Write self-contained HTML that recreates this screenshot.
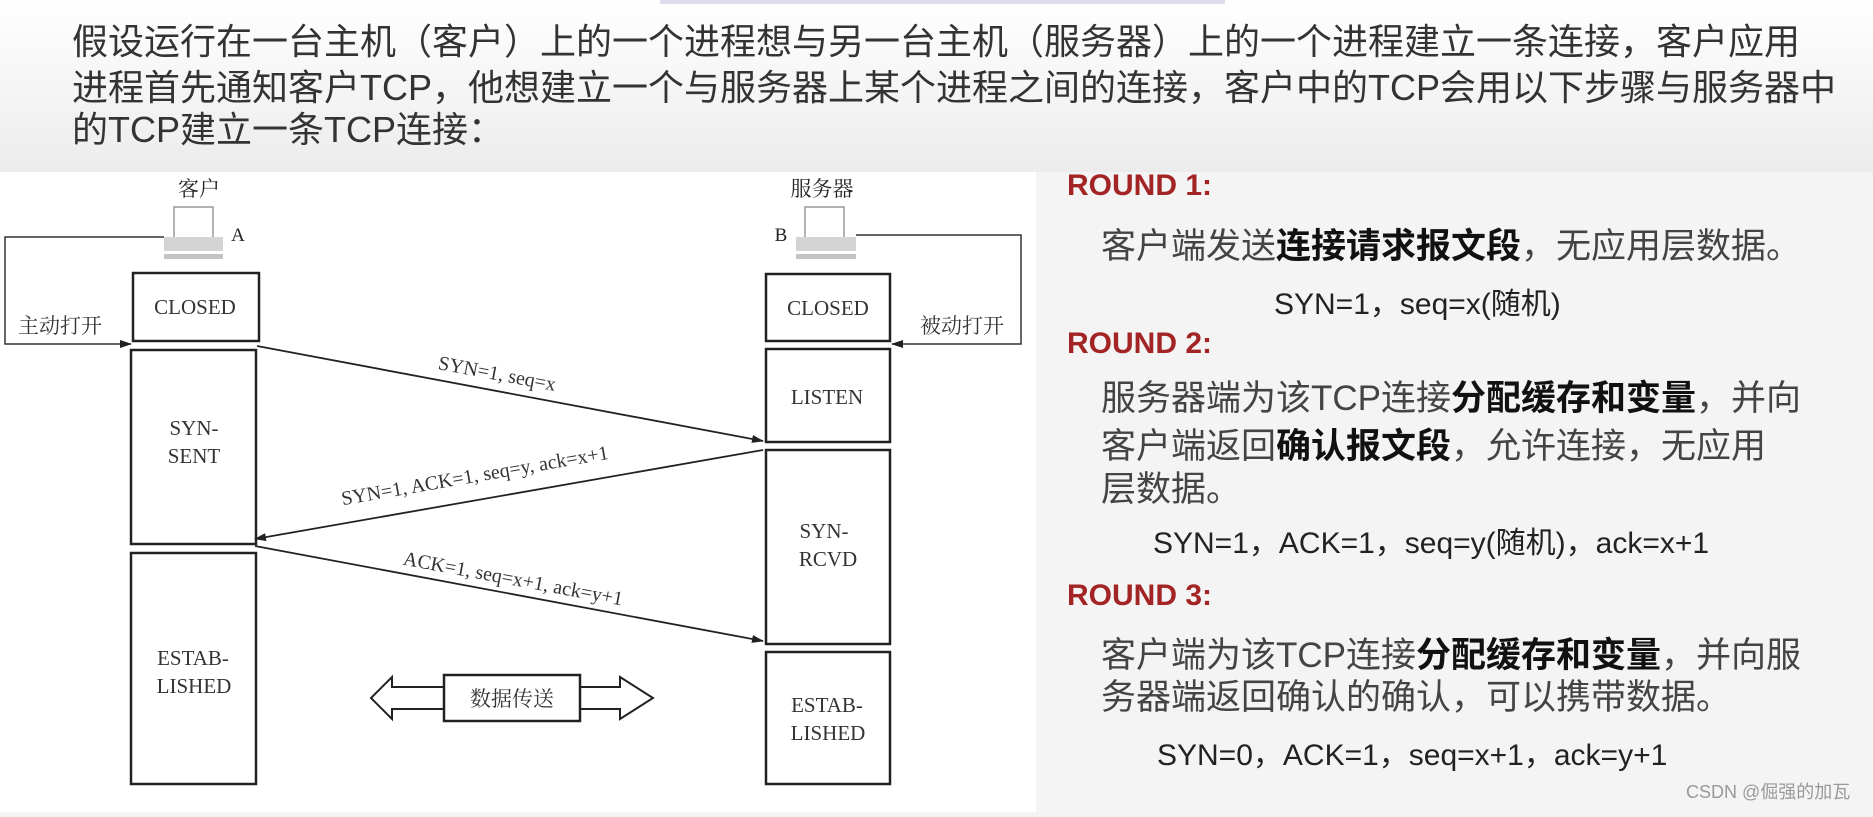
<!DOCTYPE html>
<html><head><meta charset="utf-8">
<style>
html,body{margin:0;padding:0;}
body{width:1873px;height:817px;position:relative;overflow:hidden;background:#f4f4f4;font-family:"Liberation Sans","Noto Sans CJK SC",sans-serif;color:#222;}
.t{position:absolute;white-space:nowrap;line-height:1;}
.p{font-size:36px;color:#333;left:72px;}
.r{font-size:30px;font-weight:bold;color:#a32424;left:1067px;}
.c{font-size:35px;color:#444;left:1101px;}
.c b{color:#111;}
.f{font-size:30px;color:#222;}
</style></head><body>
<div style="position:absolute;left:0;top:0;width:1873px;height:172px;background:linear-gradient(#ffffff,#ececec);"></div>
<div style="position:absolute;left:660px;top:0;width:565px;height:4px;background:#dde;"></div>
<div class="t p" style="top:24px;">假设运行在一台主机（客户）上的一个进程想与另一台主机（服务器）上的一个进程建立一条连接，客户应用</div>
<div class="t p" style="top:70px;">进程首先通知客户TCP，他想建立一个与服务器上某个进程之间的连接，客户中的TCP会用以下步骤与服务器中</div>
<div class="t p" style="top:112px;">的TCP建立一条TCP连接：</div>

<svg style="position:absolute;left:0;top:172px;" width="1036" height="640" viewBox="0 172 1036 640">
<rect x="0" y="172" width="1036" height="640" fill="#fff"/>
<defs><marker id="a" markerWidth="12" markerHeight="8" refX="11" refY="4" orient="auto" markerUnits="userSpaceOnUse"><path d="M0,0 L12,4 L0,8 z" fill="#222"/></marker></defs>
<g font-family="Liberation Serif,Noto Serif CJK SC,serif" font-size="21" fill="#222" text-anchor="middle">
<text x="199" y="196">客户</text><text x="822" y="196">服务器</text>
<text x="238" y="241" font-size="19">A</text><text x="781" y="241" font-size="19">B</text>
</g>
<g fill="none" stroke="#999" stroke-width="1.5">
<path d="M174,237 V207 H213 V237"/><path d="M805,237 V207 H844 V237"/>
</g>
<rect x="164" y="237" width="59" height="14" fill="#d4d4d4"/><rect x="164" y="254" width="59" height="5" fill="#c4c4c4"/>
<rect x="796" y="237" width="60" height="14" fill="#d4d4d4"/><rect x="796" y="254" width="60" height="5" fill="#c4c4c4"/>
<g fill="none" stroke="#333" stroke-width="1.5">
<polyline points="164,237 5,237 5,344 131,344" marker-end="url(#a)"/>
<polyline points="856,235 1021,235 1021,344 892,344" marker-end="url(#a)"/>
</g>
<g fill="#fff" stroke="#222" stroke-width="2.5">
<rect x="133" y="273" width="126" height="68"/>
<rect x="131" y="350" width="125" height="194"/>
<rect x="131" y="553" width="125" height="231"/>
<rect x="766" y="274" width="124" height="67"/>
<rect x="766" y="349" width="124" height="93"/>
<rect x="766" y="450" width="124" height="194"/>
<rect x="766" y="652" width="124" height="132"/>
</g>
<g stroke="#222" stroke-width="1.8">
<line x1="257" y1="346" x2="763" y2="441" marker-end="url(#a)"/>
<line x1="763" y1="450" x2="255" y2="539" marker-end="url(#a)"/>
<line x1="255" y1="546" x2="763" y2="641" marker-end="url(#a)"/>
</g>
<g font-family="Liberation Serif,serif" font-size="21" fill="#333" text-anchor="middle">
<text x="195" y="314">CLOSED</text><text x="828" y="315">CLOSED</text>
<text x="827" y="404">LISTEN</text>
<text x="194" y="435">SYN-</text><text x="194" y="463">SENT</text>
<text x="824" y="538">SYN-</text><text x="828" y="566">RCVD</text>
<text x="193" y="665">ESTAB-</text><text x="194" y="693">LISHED</text>
<text x="827" y="712">ESTAB-</text><text x="828" y="740">LISHED</text>
<g font-size="20">
<text x="496" y="380" transform="rotate(10.6 496 380)">SYN=1, seq=x</text>
<text x="476" y="482" transform="rotate(-9.9 476 482)">SYN=1, ACK=1, seq=y, ack=x+1</text>
<text x="512" y="585" transform="rotate(10.6 512 585)">ACK=1, seq=x+1, ack=y+1</text>
</g>
</g>
<g font-family="Liberation Serif,Noto Serif CJK SC,serif" font-size="21" fill="#333">
<text x="18" y="333">主动打开</text><text x="920" y="333">被动打开</text>
</g>
<path d="M444,687 H392 V677 L371,698 L392,719 V709 H444 M580,687 H620 V677 L653,698 L620,719 V709 H580" fill="#fff" stroke="#222" stroke-width="2"/>
<rect x="444" y="675" width="136" height="46" fill="#fff" stroke="#222" stroke-width="2.5"/>
<text x="512" y="706" font-family="Noto Serif CJK SC,serif" font-size="21" fill="#333" text-anchor="middle">数据传送</text>
</svg>

<div class="t r" style="top:171px;">ROUND 1:</div>
<div class="t c" style="top:229px;">客户端发送<b>连接请求报文段</b>，无应用层数据。</div>
<div class="t f" style="left:1274px;top:290px;">SYN=1，seq=x(随机)</div>
<div class="t r" style="top:329px;">ROUND 2:</div>
<div class="t c" style="top:381px;">服务器端为该TCP连接<b>分配缓存和变量</b>，并向</div>
<div class="t c" style="top:429px;">客户端返回<b>确认报文段</b>，允许连接，无应用</div>
<div class="t c" style="top:472px;">层数据。</div>
<div class="t f" style="left:1153px;top:529px;">SYN=1，ACK=1，seq=y(随机)，ack=x+1</div>
<div class="t r" style="top:581px;">ROUND 3:</div>
<div class="t c" style="top:638px;">客户端为该TCP连接<b>分配缓存和变量</b>，并向服</div>
<div class="t c" style="top:680px;">务器端返回确认的确认，可以携带数据。</div>
<div class="t f" style="left:1157px;top:741px;">SYN=0，ACK=1，seq=x+1，ack=y+1</div>
<div class="t" style="left:1686px;top:783px;font-size:18px;color:#999;">CSDN @倔强的加瓦</div>
</body></html>
